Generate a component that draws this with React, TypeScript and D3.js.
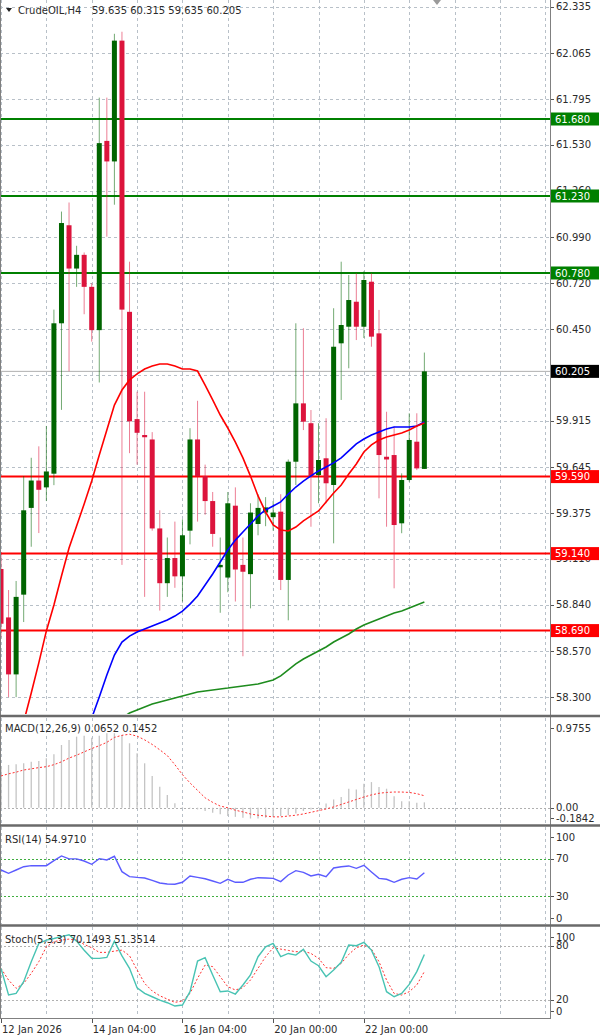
import React from 'react';
import * as d3 from 'd3';

const SYMBOL = 'CrudeOIL,H4';
const HEADER_VALUES = '59.635 60.315 59.635 60.205';

const OPEN = [59.05, 58.767, 58.434, 58.9, 59.407, 59.567, 59.527, 59.607, 60.486, 61.059, 60.806, 60.886, 60.699, 60.446, 61.552, 61.432, 62.138, 60.553, 59.926, 59.833, 59.807, 59.287, 58.967, 59.114, 59.007, 59.274, 59.807, 59.593, 59.447, 59.06, 59.0, 59.42, 59.074, 59.02, 59.313, 59.38, 59.353, 59.385, 58.986, 59.677, 60.018, 59.902, 59.599, 59.697, 59.541, 60.369, 60.466, 60.612, 60.466, 60.729, 60.427, 59.706, 59.716, 59.317, 59.57, 59.794, 59.635];
const HIGH = [59.15, 58.927, 58.98, 59.593, 59.7, 59.767, 59.886, 60.566, 61.139, 61.192, 60.939, 60.9, 60.72, 61.805, 61.805, 62.178, 62.19, 60.846, 60.086, 60.086, 59.85, 59.393, 59.234, 59.327, 59.34, 59.873, 60.033, 59.66, 59.5, 59.234, 59.5, 59.527, 59.234, 59.434, 59.487, 59.47, 59.447, 59.487, 59.69, 60.486, 60.457, 59.979, 59.902, 59.931, 60.574, 60.846, 60.768, 60.778, 60.79, 60.778, 60.564, 59.969, 59.882, 59.609, 59.96, 59.96, 60.315];
const LOW = [58.65, 58.301, 58.301, 58.74, 59.18, 59.26, 59.447, 59.54, 59.98, 60.206, 60.699, 60.539, 60.379, 60.14, 60.992, 61.179, 59.074, 59.727, 59.66, 58.887, 59.274, 58.807, 58.887, 58.94, 58.86, 59.194, 59.327, 59.367, 59.18, 58.794, 58.914, 58.86, 58.54, 58.82, 59.247, 59.3, 59.274, 58.927, 58.75, 59.541, 59.862, 59.297, 59.434, 59.434, 59.2, 60.038, 60.223, 60.388, 60.4, 60.349, 59.463, 59.297, 58.937, 59.259, 59.56, 59.628, 59.635];
const CLOSE = [58.73, 58.434, 58.887, 59.393, 59.567, 59.513, 59.62, 60.486, 61.072, 60.806, 60.886, 60.699, 60.446, 61.539, 61.432, 62.138, 60.566, 59.913, 59.846, 59.82, 59.287, 58.967, 59.114, 59.007, 59.247, 59.807, 59.593, 59.447, 59.255, 59.074, 59.434, 59.047, 59.034, 59.38, 59.407, 59.41, 59.38, 58.986, 59.677, 60.018, 59.911, 59.589, 59.687, 59.551, 60.349, 60.476, 60.622, 60.466, 60.739, 60.408, 59.716, 59.69, 59.307, 59.57, 59.804, 59.638, 60.205];

const MA_RED_START = 3;
const MA_RED = [58.156, 58.325, 58.501, 58.688, 58.84, 59.009, 59.173, 59.301, 59.43, 59.564, 59.716, 59.862, 60.008, 60.096, 60.155, 60.19, 60.219, 60.236, 60.248, 60.248, 60.236, 60.219, 60.219, 60.207, 60.125, 60.038, 59.95, 59.874, 59.792, 59.699, 59.593, 59.477, 59.383, 59.307, 59.278, 59.272, 59.295, 59.331, 59.36, 59.389, 59.442, 59.494, 59.541, 59.605, 59.664, 59.734, 59.775, 59.804, 59.821, 59.833, 59.845, 59.862, 59.886, 59.903];
const MA_BLUE_START = 12;
const MA_BLUE = [58.179, 58.302, 58.43, 58.547, 58.623, 58.658, 58.682, 58.699, 58.717, 58.734, 58.752, 58.775, 58.804, 58.845, 58.892, 58.956, 59.021, 59.091, 59.161, 59.219, 59.266, 59.313, 59.36, 59.395, 59.418, 59.442, 59.488, 59.529, 59.564, 59.594, 59.623, 59.646, 59.67, 59.699, 59.74, 59.781, 59.81, 59.833, 59.851, 59.868, 59.88, 59.88, 59.88, 59.886, 59.909];
const MA_GREEN_START = 16;
const MA_GREEN = [58.179, 58.208, 58.226, 58.243, 58.261, 58.273, 58.284, 58.296, 58.308, 58.319, 58.331, 58.337, 58.343, 58.349, 58.354, 58.36, 58.366, 58.372, 58.378, 58.39, 58.401, 58.425, 58.46, 58.495, 58.524, 58.547, 58.571, 58.594, 58.623, 58.647, 58.67, 58.699, 58.723, 58.74, 58.758, 58.775, 58.793, 58.804, 58.822, 58.84, 58.857];

const RESISTANCE = [61.68, 61.23, 60.78];
const SUPPORT = [59.59, 59.14, 58.69];
const LAST_PRICE = 60.205;
const PRICE_TICKS = [62.335, 62.065, 61.795, 61.53, 61.26, 60.99, 60.72, 60.45, 60.185, 59.915, 59.645, 59.375, 59.11, 58.84, 58.57, 58.3];

const MACD_HIST = [0.496, 0.517, 0.525, 0.537, 0.557, 0.565, 0.598, 0.646, 0.758, 0.819, 0.859, 0.871, 0.847, 0.871, 0.9, 0.9, 0.879, 0.779, 0.658, 0.537, 0.384, 0.255, 0.155, 0.054, 0.01, -0.005, -0.02, -0.04, -0.06, -0.08, -0.1, -0.11, -0.12, -0.13, -0.13, -0.12, -0.11, -0.1, -0.09, -0.07, -0.04, -0.02, 0.01, 0.05, 0.1, 0.13, 0.23, 0.22, 0.29, 0.31, 0.25, 0.23, 0.14, 0.08, 0.08, 0.06, 0.0652];
const MACD_SIGNAL = [0.384, 0.41, 0.43, 0.456, 0.47, 0.485, 0.496, 0.52, 0.555, 0.6, 0.635, 0.675, 0.715, 0.75, 0.79, 0.85, 0.875, 0.888, 0.865, 0.82, 0.765, 0.7, 0.63, 0.52, 0.4, 0.3, 0.21, 0.12, 0.065, 0.02, 0.0, -0.03, -0.05, -0.075, -0.09, -0.1, -0.11, -0.11, -0.1, -0.09, -0.075, -0.055, -0.035, -0.015, 0.01, 0.04, 0.07, 0.1, 0.13, 0.155, 0.175, 0.185, 0.19, 0.19, 0.185, 0.17, 0.1452];
const MACD_LABELS = [0.9755, 0.0, -0.1842];
const MACD_LABEL_TEXT = ['0.9755', '0.00', '-0.1842'];

const RSI = [57.9, 54.4, 57.9, 61.4, 62.5, 62.5, 62.5, 67.8, 72.9, 69.7, 69.7, 67.5, 64.0, 70.0, 68.6, 72.5, 56.1, 50.8, 50.0, 49.4, 46.9, 44.0, 43.0, 42.7, 44.8, 51.5, 50.0, 48.6, 46.2, 43.7, 48.0, 44.8, 44.8, 48.0, 49.7, 49.4, 49.0, 45.5, 52.6, 57.2, 55.4, 51.5, 53.3, 50.8, 60.0, 61.4, 62.2, 59.7, 62.9, 55.8, 49.0, 48.0, 44.8, 48.0, 49.7, 48.3, 54.971];
const RSI_LEVELS = [70, 30];
const RSI_LABELS = [100, 70, 30, 0];

const STOCH_K = [54.9, 25.4, 27.2, 40.2, 62.3, 82.5, 86.2, 88, 90, 92, 85, 75, 66, 66, 67, 85, 68.7, 54.9, 33.5, 27.2, 23.5, 19.8, 16.9, 13.2, 14.4, 29.1, 63, 66.7, 47.6, 29.1, 29.9, 26.5, 36.5, 47.6, 67.8, 78.8, 82.5, 67.8, 71.4, 69.6, 75.9, 63, 57.8, 45.7, 53.1, 61.6, 80.7, 80, 83.6, 75.1, 56.8, 29.1, 23.5, 27.2, 37.2, 51.3, 70.1493];
const STOCH_D = [54.9, 42, 32.8, 38.3, 49.4, 62.3, 78.8, 84.4, 86.2, 87.3, 86.2, 81.4, 77.7, 72.6, 72.6, 74, 75.1, 68.9, 53.1, 38.3, 29.9, 24.6, 20.9, 17.3, 18.8, 27.2, 43.9, 58.6, 56.8, 45.7, 34.6, 31.0, 33.5, 42, 54.9, 67.8, 77.7, 76.2, 74.8, 73.3, 74, 71.4, 66, 55.7, 54.9, 60.4, 70.4, 77.7, 80.7, 76.2, 62.3, 42, 27.2, 25.4, 29.1, 36.5, 51.3514];
const STOCH_LEVELS = [80, 20];
const STOCH_LABELS = [100, 80, 20, 0];

const TIME_LABEL_INDEX = [0, 12, 24, 36, 48];
const TIME_LABEL_TEXT = ['12 Jan 2026', '14 Jan 04:00', '16 Jan 04:00', '20 Jan 00:00', '22 Jan 00:00'];

const W = 600;
const H = 1036;
const AXIS_X = 550;
const FONT = "'DejaVu Sans', sans-serif";
const TXT = '#2b2b2b';
const GRID = '#b8c0c8';

const P_MAIN = { top: 0, bottom: 714 };
const P_MACD = { top: 718, bottom: 824 };
const P_RSI = { top: 827, bottom: 924 };
const P_STOCH = { top: 927, bottom: 1017 };

export default function App() {
  const x = d3.scaleLinear().domain([0, 72]).range([1, 1 + 72 * 7.56]);
  const yMain = d3.scaleLinear().domain([58.2025, 62.3755]).range([714, 0]);
  const yMacd = d3.scaleLinear().domain([-0.1842, 0.9755]).range([823, 727]);
  const yRsi = d3.scaleLinear().domain([0, 100]).range([924.3, 830.5]);
  const yStoch = d3.scaleLinear().domain([0, 100]).range([1018, 927.6]);

  const gridIdx = d3.range(0, 73, 6).filter((i) => x(i) < AXIS_X - 2);

  const maLine = (start: number) =>
    d3.line<number>().x((_, k) => x(start + k)).y((d) => yMain(d));
  const indLine = (y: d3.ScaleLinear<number, number>) =>
    d3.line<number>().x((_, k) => x(k)).y((d) => y(d));

  const clampLabel = (y: number, p: { top: number; bottom: number }) =>
    Math.max(p.top + 10, Math.min(p.bottom - 6, y));

  const vGrid = (p: { top: number; bottom: number }) =>
    gridIdx.map((i) => (
      <line key={'vg' + p.top + '-' + i} x1={Math.round(x(i)) + 0.5} x2={Math.round(x(i)) + 0.5} y1={p.top} y2={p.bottom}
        stroke={GRID} strokeDasharray="3,3" strokeWidth={1} />
    ));

  const axisLabel = (y: number, text: string, key: string) => (
    <g key={key}>
      <line x1={AXIS_X} x2={AXIS_X + 4} y1={Math.round(y) + 0.5} y2={Math.round(y) + 0.5} stroke="#555" />
      <text x={556} y={y} dy="0.35em" fontSize={10} fill={TXT} fontFamily={FONT}>{text}</text>
    </g>
  );

  const levelBox = (v: number, fill: string, key: string) => (
    <g key={key}>
      <rect x={551} y={yMain(v) - 6.5} width={48} height={13} fill={fill} />
      <text x={555} y={yMain(v)} dy="0.36em" fontSize={10} fill="#ffffff" fontFamily={FONT}>{v.toFixed(3)}</text>
    </g>
  );

  return (
    <svg width={W} height={H} style={{ position: 'absolute', left: 0, top: 0, background: '#fff' }}
      xmlns="http://www.w3.org/2000/svg">
      <defs>
        <clipPath id="clipMain"><rect x={0} y={P_MAIN.top} width={AXIS_X} height={P_MAIN.bottom - P_MAIN.top} /></clipPath>
        <clipPath id="clipMacd"><rect x={0} y={P_MACD.top} width={AXIS_X} height={P_MACD.bottom - P_MACD.top} /></clipPath>
      </defs>
      <rect x={0} y={0} width={W} height={H} fill="#fff" />

      {/* ===== MAIN PANEL ===== */}
      {vGrid(P_MAIN)}
      {PRICE_TICKS.map((t) => (
        <line key={'hg' + t} x1={0} x2={AXIS_X} y1={Math.round(yMain(t)) + 0.5} y2={Math.round(yMain(t)) + 0.5}
          stroke={GRID} strokeDasharray="3,3" />
      ))}
      <line x1={0} x2={AXIS_X} y1={yMain(LAST_PRICE)} y2={yMain(LAST_PRICE)} stroke="#b0b0b0" strokeWidth={1} />

      <g clipPath="url(#clipMain)">
        {RESISTANCE.map((v) => (
          <line key={'r' + v} x1={0} x2={AXIS_X} y1={yMain(v)} y2={yMain(v)} stroke="#008000" strokeWidth={2} />
        ))}
        {SUPPORT.map((v) => (
          <line key={'s' + v} x1={0} x2={AXIS_X} y1={yMain(v)} y2={yMain(v)} stroke="#ff0000" strokeWidth={2} />
        ))}
        {CLOSE.map((c, i) => {
          const o = OPEN[i];
          const bull = c >= o;
          const col = bull ? '#006400' : '#dc143c';
          const cx = x(i);
          const top = yMain(Math.max(o, c));
          const bot = yMain(Math.min(o, c));
          return (
            <g key={'c' + i}>
              <line x1={cx} x2={cx} y1={yMain(HIGH[i])} y2={yMain(LOW[i])} stroke={col} strokeOpacity={0.55} strokeWidth={1} />
              <rect x={cx - 2.5} y={top} width={5} height={Math.max(1.2, bot - top)} fill={col} />
            </g>
          );
        })}
        <path d={maLine(MA_GREEN_START)(MA_GREEN) || ''} fill="none" stroke="#1e8c1e" strokeWidth={1.6} />
        <path d={maLine(MA_BLUE_START)(MA_BLUE) || ''} fill="none" stroke="#0000ff" strokeWidth={1.6} />
        <path d={maLine(MA_RED_START)(MA_RED) || ''} fill="none" stroke="#ff0000" strokeWidth={1.6} />
      </g>

      <path d="M6,8 L12,8 L9,12 Z" fill="#222" />
      <text x={18} y={10} dy="0.35em" fontSize={10} fill={TXT} fontFamily={FONT}>{SYMBOL}</text>
      <text x={92} y={10} dy="0.35em" fontSize={10} fill={TXT} fontFamily={FONT}>{HEADER_VALUES}</text>
      <path d="M433,0 L441,0 L437,5 Z" fill="#9a9a9a" />

      {PRICE_TICKS.map((t) => axisLabel(yMain(t), t.toFixed(3), 'pl' + t))}
      {RESISTANCE.map((v) => levelBox(v, '#008000', 'rb' + v))}
      {SUPPORT.map((v) => levelBox(v, '#ff0000', 'sb' + v))}
      {levelBox(LAST_PRICE, '#000000', 'last')}

      {/* ===== MACD ===== */}
      {vGrid(P_MACD)}
      <line x1={0} x2={AXIS_X} y1={Math.round(yMacd(0)) + 0.5} y2={Math.round(yMacd(0)) + 0.5} stroke="#b0b0b0" strokeDasharray="2,2" />
      <g clipPath="url(#clipMacd)">
        {MACD_HIST.map((v, i) => (
          <line key={'h' + i} x1={x(i)} x2={x(i)} y1={yMacd(0)} y2={yMacd(v)} stroke="#c4c4c4" strokeWidth={1.3} />
        ))}
        <path d={indLine(yMacd)(MACD_SIGNAL) || ''} fill="none" stroke="#ff3030" strokeWidth={1} strokeDasharray="2,2" />
      </g>
      <text x={5} y={728} dy="0.35em" fontSize={10} fill={TXT} fontFamily={FONT}>MACD(12,26,9) 0.0652 0.1452</text>
      {MACD_LABELS.map((v, k) => axisLabel(clampLabel(yMacd(v), P_MACD), MACD_LABEL_TEXT[k], 'ml' + k))}

      {/* ===== RSI ===== */}
      {vGrid(P_RSI)}
      {RSI_LEVELS.map((v) => (
        <line key={'rl' + v} x1={0} x2={AXIS_X} y1={Math.round(yRsi(v)) + 0.5} y2={Math.round(yRsi(v)) + 0.5}
          stroke="#3fae3f" strokeDasharray="2,2" />
      ))}
      <path d={indLine(yRsi)(RSI) || ''} fill="none" stroke="#5b5bff" strokeWidth={1.4} />
      <text x={5} y={839} dy="0.35em" fontSize={10} fill={TXT} fontFamily={FONT}>RSI(14) 54.9710</text>
      {RSI_LABELS.map((v) => axisLabel(clampLabel(yRsi(v), P_RSI), String(v), 'rsl' + v))}

      {/* ===== STOCH ===== */}
      {vGrid(P_STOCH)}
      {STOCH_LEVELS.map((v) => (
        <line key={'sl' + v} x1={0} x2={AXIS_X} y1={Math.round(yStoch(v)) + 0.5} y2={Math.round(yStoch(v)) + 0.5}
          stroke="#b0b0b0" strokeDasharray="2,2" />
      ))}
      <path d={indLine(yStoch)(STOCH_D) || ''} fill="none" stroke="#ff3030" strokeWidth={1} strokeDasharray="2,2" />
      <path d={indLine(yStoch)(STOCH_K) || ''} fill="none" stroke="#48c3b3" strokeWidth={1.4} />
      <text x={5} y={939} dy="0.35em" fontSize={10} fill={TXT} fontFamily={FONT}>Stoch(5,3,3) 70.1493 51.3514</text>
      {STOCH_LABELS.map((v) => axisLabel(clampLabel(yStoch(v), P_STOCH), String(v), 'stl' + v))}

      {/* ===== FRAMES ===== */}
      <line x1={AXIS_X + 0.5} x2={AXIS_X + 0.5} y1={0} y2={1019} stroke="#808080" />
      <line x1={0.5} x2={0.5} y1={0} y2={1019} stroke="#808080" />
      <line x1={0} x2={W} y1={716} y2={716} stroke="#6a6a6a" strokeWidth={2.5} />
      <line x1={0} x2={W} y1={825.5} y2={825.5} stroke="#6a6a6a" strokeWidth={2.5} />
      <line x1={0} x2={W} y1={925.5} y2={925.5} stroke="#6a6a6a" strokeWidth={2.5} />
      <line x1={0} x2={AXIS_X + 1} y1={1018.5} y2={1018.5} stroke="#808080" />

      {TIME_LABEL_INDEX.map((i, k) => (
        <g key={'tl' + i}>
          <line x1={Math.round(x(i)) + 0.5} x2={Math.round(x(i)) + 0.5} y1={1019} y2={1023} stroke="#555" />
          <text x={x(i) + 1} y={1029} dy="0.35em" fontSize={10} fill={TXT} fontFamily={FONT}>{TIME_LABEL_TEXT[k]}</text>
        </g>
      ))}
    </svg>
  );
}
